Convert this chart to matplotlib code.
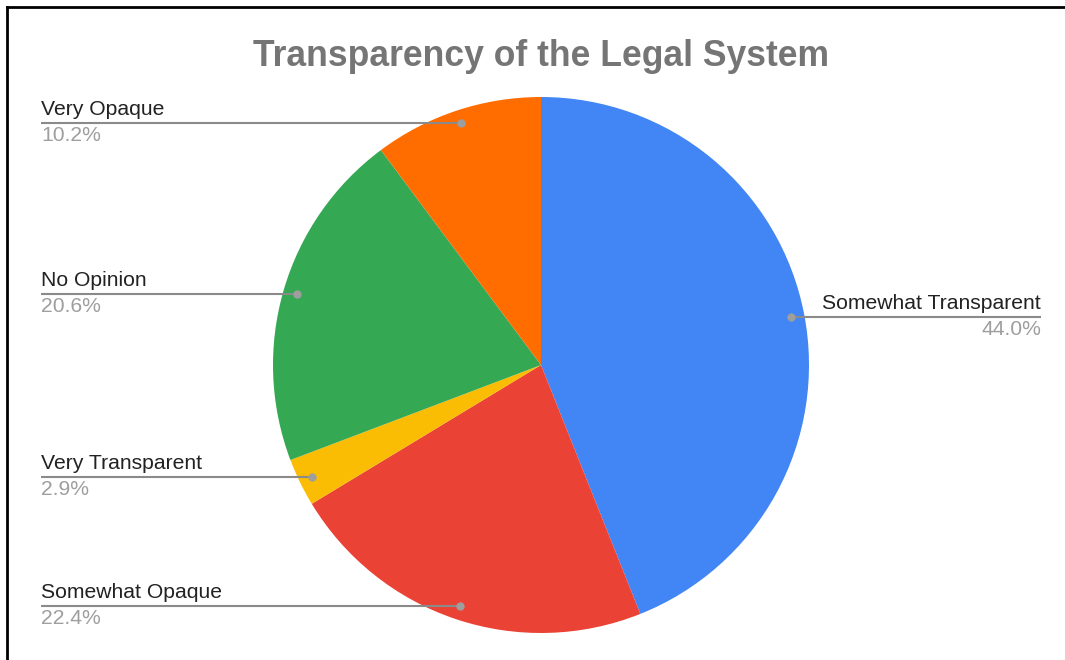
import matplotlib.pyplot as plt
import numpy as np

plt.rcParams['font.family'] = ['Liberation Sans', 'DejaVu Sans']

labels = ['Somewhat Transparent', 'Somewhat Opaque', 'Very Transparent', 'No Opinion', 'Very Opaque']
shares = [44.0, 22.4, 2.9, 20.6, 10.2]
colors = ['#4285F4', '#EA4335', '#FBBC04', '#34A853', '#FF6D01']

W, H = 1065, 660
cx, cy, R = 541, H - 365, 268

fig = plt.figure(figsize=(W / 100, H / 100), dpi=100)
ax = fig.add_axes([0, 0, 1, 1])

wedges, _ = ax.pie(shares, colors=colors, startangle=90, counterclock=False,
                   center=(cx, cy), radius=R, frame=True,
                   wedgeprops=dict(linewidth=0))
ax.set_xlim(0, W)
ax.set_ylim(0, H)
ax.set_aspect('equal')
ax.axis('off')

# leader lines: dot inside each slice, horizontal line out to the label
for w, name, pct in zip(wedges, labels, shares):
    mid = np.deg2rad((w.theta1 + w.theta2) / 2)
    dx = cx + 0.95 * R * np.cos(mid)
    dy = cy + 0.95 * R * np.sin(mid)
    if dx > cx:
        x_end, ha = 1041, 'right'
    else:
        x_end, ha = 41, 'left'
    ax.plot([dx, x_end], [dy, dy], color='#8a8a8a', lw=1.5, solid_capstyle='butt', zorder=3)
    ax.plot(dx, dy, 'o', color='#9e9e9e', ms=6, mew=0, zorder=4)
    ax.text(x_end, dy + 4, name, ha=ha, va='bottom', fontsize=15.2, color='#222222')
    ax.text(x_end, dy - 3, f'{pct:.1f}%', ha=ha, va='top', fontsize=15.2, color='#9e9e9e')

ax.text(cx, H - 57, 'Transparency of the Legal System', ha='center', va='center',
        fontsize=25.6, fontweight='bold', color='#757575')

# frame edges on the top and left
ax.plot([7, 7], [0, H - 7], color='black', lw=2, clip_on=False)
ax.plot([7, W], [H - 7, H - 7], color='black', lw=2, clip_on=False)

fig.savefig('out.png', dpi=100, facecolor='white')
